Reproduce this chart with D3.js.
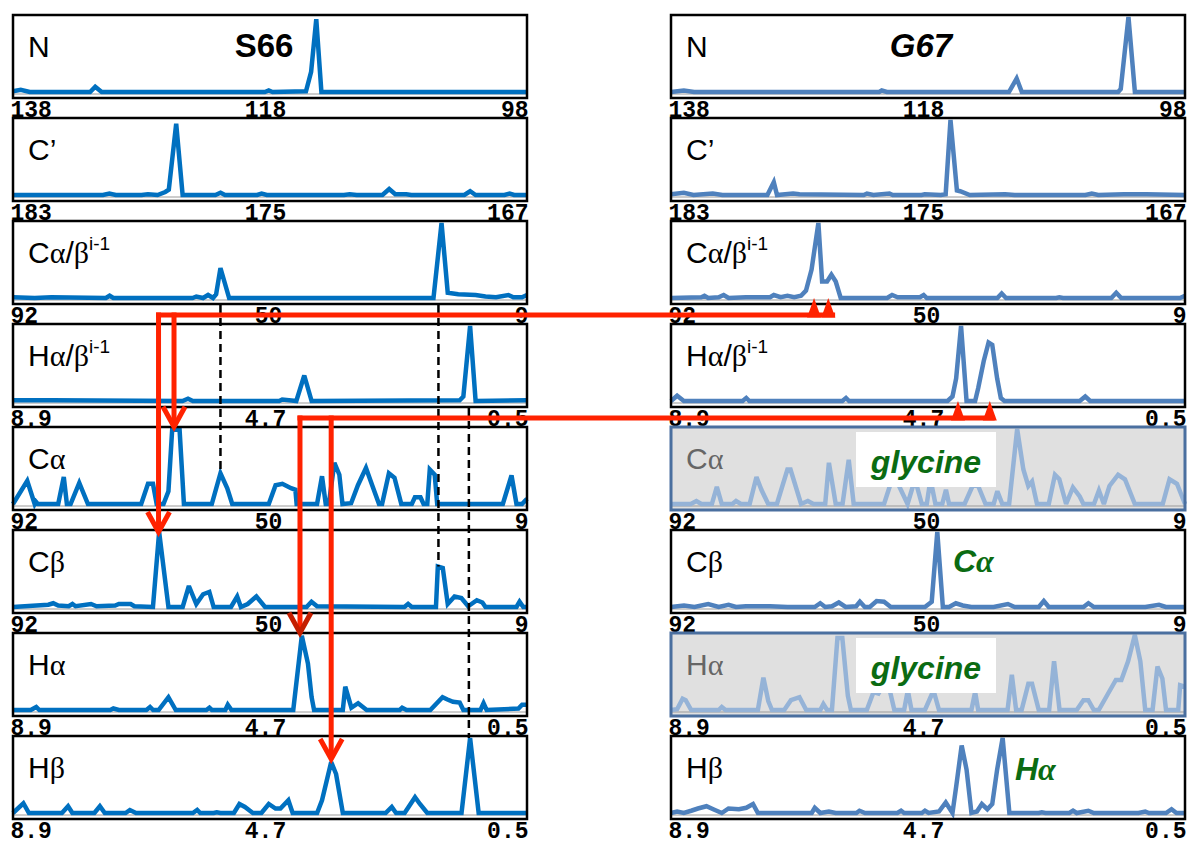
<!DOCTYPE html>
<html>
<head>
<meta charset="utf-8">
<script src="https://cdn.jsdelivr.net/npm/d3@7"></script>
<style>
  body { margin: 0; background: #fff; }
</style>
</head>
<body>
<div class="app"></div>
<script>
'use strict'

// residue names, one per column
var residues = ['S66', 'G67'];

// strip names (row order), superscripts, axis ranges and tick labels
var stripNames = ['N', 'C’', 'Cα/β', 'Hα/β', 'Cα', 'Cβ', 'Hα', 'Hβ'];
var stripSup   = ['', '', 'i-1', 'i-1', '', '', '', ''];
var stripDomains = [[138, 98], [183, 167], [92, 9], [8.9, 0.5], [92, 9], [92, 9], [8.9, 0.5], [8.9, 0.5]];
var tickValues = [[138, 118, 98], [183, 175, 167], [92, 50, 9], [8.9, 4.7, 0.5], [92, 50, 9], [92, 50, 9], [8.9, 4.7, 0.5], [8.9, 4.7, 0.5]];
var tickLabels = [['138', '118', '98'], ['183', '175', '167'], ['92', '50', '9'], ['8.9', '4.7', '0.5'],
                  ['92', '50', '9'], ['92', '50', '9'], ['8.9', '4.7', '0.5'], ['8.9', '4.7', '0.5']];

// strips of G67 that carry no signal for glycine
var glycineRows = [4, 6];

// traces: [ppm, relative intensity]
var s66N = [[138,0.01],[137.4,0.03],[136.7,0],[132.0,0],[131.6,0.07],[131.1,0],[118.4,0],[118.1,0.02],[117.8,0],
  [115.2,0.01],[114.8,0.27],[114.4,0.97],[114.0,0],[98,0]];
var s66Cp = [[183,0],[180.2,0],[180.0,0.02],[179.8,0],[179.0,0],[178.8,0.01],[178.5,0],[178.26,0.04],[178.15,0.07],
  [177.92,0.95],[177.72,0],[176.7,0],[176.54,0.03],[176.4,0],[175.4,0],[175.26,0.02],[175.1,0],[172.7,0],[172.52,0.01],
  [172.3,0],[171.5,0],[171.29,0.08],[171.1,0.01],[170.76,0.01],[170.6,0],[168.95,0],[168.77,0.05],[168.6,0],[167.7,0],
  [167.54,0.02],[167.4,0],[167,0]];
var s66CaCb = [[92,0.01],[88.5,0],[85.8,0.01],[77,0],[76.4,0.03],[75.8,0],[63,0],[62.4,0.02],[61.3,0],[60.5,0.04],
  [59.7,0],[59.2,0.05],[58.5,0.4],[57.1,0],[24.1,0],[22.8,1.0],[21.8,0.07],[20.1,0.05],[17.3,0.04],[15.7,0.02],
  [14.0,0.01],[12.0,0.04],[11.2,0.01],[9.8,0.01],[9,0.04]];
var s66HaHb = [[8.9,0.01],[8.27,0.01],[6.13,0],[6.04,0.03],[5.96,0],[4.55,0],[4.5,0.02],[4.27,0],[4.14,0.34],[4.02,0],
  [1.6,0.01],[1.54,0.06],[1.43,1.0],[1.34,0],[0.5,0.01]];
var s66Ca = [[92,0],[89.7,0.31],[88.5,0],[88.3,0.03],[88.0,0],[84.7,0],[83.8,0.36],[83.3,0],[82.7,0],[81.3,0.28],
  [79.9,0],[71.3,0],[70.2,0.27],[69.4,0.27],[68.8,0],[67.7,0],[66.9,0.17],[66.3,0.99],[65.1,0.99],[64.4,0],[59.9,0],
  [58.5,0.41],[57.4,0.21],[56.6,0],[50.7,0],[49.6,0.25],[48.5,0.27],[47.1,0.21],[46.4,0.19],[46.2,0],[42.9,0],
  [42.1,0.37],[41.5,0],[41.0,0],[40.1,0.55],[39.3,0.39],[38.8,0],[37.4,0.01],[36.3,0.25],[35.0,0.48],[34.0,0.25],
  [32.9,0],[32.4,0],[31.3,0.41],[30.4,0.35],[29.3,0],[27.6,0],[27.1,0.09],[26.2,0.09],[25.7,0],[25.1,0],[24.7,0.46],
  [23.9,0.39],[23.5,0],[12.9,0],[11.5,0.38],[10.7,0],[9.8,0],[9,0.07]];
var s66Cb = [[92,0],[86.3,0.03],[85.5,0.05],[84.7,0.02],[83.0,0.01],[82.4,0.04],[81.9,0.01],[79.4,0.04],[78.5,0.01],
  [75.5,0.02],[74.9,0.04],[73.0,0.04],[72.4,0.01],[69.4,0],[68.4,1.0],[66.9,0],[64.6,0],[63.6,0.28],[62.4,0.04],
  [61.3,0.17],[60.3,0.2],[59.6,0],[56.8,0],[55.8,0.14],[55.2,0],[54.1,0.04],[52.7,0.14],[51.3,0],[44.6,0],[43.8,0.07],
  [42.9,0.01],[28.8,0],[28.2,0.04],[27.6,0],[23.7,0],[23.4,0.54],[22.6,0.52],[21.8,0.04],[20.7,0.14],[19.6,0.12],
  [18.5,0.01],[17.1,0.09],[16.2,0.06],[15.7,0],[10.7,0],[10.2,0.07],[9.6,0],[9,0]];
var s66Ha = [[8.9,0],[8.61,0],[8.52,0.04],[8.47,0],[7.31,0],[7.26,0.02],[7.17,0],[6.72,0],[6.66,0.04],[6.61,0],
  [6.52,0],[6.36,0.17],[6.24,0],[5.74,0],[5.69,0.03],[5.65,0],[5.43,0],[5.39,0.07],[5.33,0],[4.32,0],[4.18,0.99],
  [4.08,0.62],[4.02,0.17],[3.98,0],[3.51,0],[3.47,0.31],[3.37,0.03],[3.26,0.09],[3.12,0],[2.58,0],[2.54,0.03],
  [2.47,0],[2.08,0],[1.88,0.17],[1.8,0.14],[1.71,0.11],[1.6,0.1],[1.54,0],[1.26,0],[1.21,0.09],[1.16,0],[0.64,0.02],
  [0.58,0.07],[0.5,0.07]];
var s66Hb = [[8.9,0],[8.73,0.13],[8.64,0],[8.1,0],[8.0,0.09],[7.93,0],[7.57,0],[7.48,0.09],[7.4,0],[7.06,0],
  [6.99,0.04],[6.89,0],[5.96,0],[5.89,0.04],[5.84,0],[5.62,0],[5.57,0.01],[5.51,0],[5.29,0],[5.2,0.12],[5.11,0.08],
  [4.98,0],[4.84,0],[4.72,0.12],[4.61,0.06],[4.53,0.06],[4.4,0.17],[4.33,0],[3.93,0],[3.85,0.17],[3.7,0.68],
  [3.62,0.52],[3.51,0],[2.81,0],[2.71,0.08],[2.64,0],[2.5,0],[2.33,0.21],[2.25,0.12],[2.13,0],[1.57,0],[1.43,1.0],
  [1.29,0],[0.5,0]];

var g67N = [[138,0],[137.0,0.02],[136.2,0],[121.8,0],[121.6,0.02],[121.2,0],[111.7,0],[111.1,0.18],[110.7,0],
  [103.2,0],[103.0,0.04],[102.4,1.0],[101.9,0],[98,0]];
var g67Cp = [[183,0.01],[182.6,0.03],[182.3,0],[181.7,0.02],[181.4,0],[180.0,0],[179.8,0.17],[179.7,0],[179.2,0.02],
  [179.0,0.01],[177.0,0],[176.9,0.02],[176.7,0],[176.2,0.02],[176.1,0],[175.2,0],[175.1,0.01],[174.6,0],[174.45,0.01],
  [174.3,1.0],[174.1,0.06],[174.0,0.05],[173.7,0],[172.6,0.01],[172.3,0],[170.1,0],[169.9,0.02],[169.7,0],
  [168.9,0.01],[168.2,0.01],[167,0]];
var g67CaCb = [[92,0],[87.1,0.01],[86.6,0.03],[86.0,0],[84.3,0.01],[83.5,0.04],[82.7,0],[79.9,0.01],[76.0,0.01],
  [75.4,0.04],[74.3,0.01],[73.2,0.03],[72.1,0.01],[71.0,0.03],[70.2,0.1],[69.3,0.38],[68.2,1.0],[67.6,0.22],
  [66.8,0.22],[66.1,0.31],[65.4,0.22],[64.6,0],[57.1,0],[56.3,0.04],[55.4,0.01],[51.8,0.01],[51.2,0.04],[50.7,0],
  [39.3,0],[38.6,0.06],[37.9,0],[29.8,0],[29.3,0.01],[28.7,0],[20.9,0],[20.1,0.07],[19.3,0],[9.8,0],[9,0.03]];
var g67HaHb = [[8.9,0],[8.8,0.07],[8.69,0],[7.73,0],[7.67,0.04],[7.62,0],[6.1,0],[6.04,0.04],[5.99,0],[4.38,0],
  [4.3,0.06],[4.24,0.3],[4.16,1.0],[4.07,0],[3.93,0],[3.88,0.17],[3.79,0.53],[3.71,0.78],[3.65,0.75],[3.57,0.3],
  [3.51,0.04],[3.45,0],[2.22,0],[2.13,0.06],[2.05,0],[0.5,0]];
var g67Ca = [[92,0],[88.8,0],[87.9,0.04],[87.1,0],[85.4,0],[84.6,0.23],[83.8,0],[82.1,0],[81.5,0.04],[80.7,0],
  [79.3,0],[78.2,0.36],[77.4,0.19],[76.3,0],[74.9,0],[73.2,0.46],[72.7,0.46],[71.0,0],[69.9,0.04],[69.0,0],[67.1,0],
  [66.5,0.55],[65.4,0],[64.3,0],[63.3,0.59],[62.5,0],[57.6,0],[56.5,0.28],[55.4,0.28],[53.8,0],[52.6,0.33],[51.5,0],
  [50.7,0],[50.1,0.33],[49.3,0],[48.2,0],[47.6,0.19],[47.1,0],[44.6,0],[43.2,0.26],[42.4,0.24],[41.2,0],[39.9,0],
  [39.3,0.17],[38.5,0],[37.4,0],[36.1,1.0],[35.1,0.46],[34.3,0.24],[33.7,0.3],[32.9,0],[31.0,0],[30.0,0.39],
  [29.3,0.33],[28.2,0],[27.1,0.22],[26.0,0.1],[25.4,0],[23.7,0],[22.9,0.18],[22.1,0],[21.2,0.24],[19.8,0.39],
  [18.7,0.33],[17.1,0],[12.6,0],[11.5,0.33],[10.3,0.27],[9,0]];
var g67Cb = [[92,0],[89.9,0.02],[88.2,0],[86.0,0.04],[84.3,0],[82.7,0.03],[81.5,0],[79.9,0.01],[76.0,0.01],[73.2,0],
  [68.8,0],[67.9,0.05],[67.1,0],[66.0,0.01],[64.9,0.06],[63.8,0],[62.1,0.01],[61.5,0.07],[60.7,0],[59.9,0],
  [58.8,0.08],[57.6,0.07],[56.5,0],[51.0,0],[49.9,0.07],[49.0,1.0],[48.1,0],[47.1,0],[46.0,0.05],[44.9,0.02],
  [43.5,0],[39.9,0],[37.6,0.04],[36.5,0],[32.6,0],[31.8,0.08],[31.0,0],[25.4,0],[24.6,0.05],[23.7,0],[15.4,0],
  [13.2,0.03],[12.1,0],[9,0]];
var g67Ha = [[8.9,0],[8.8,0.01],[8.71,0.15],[8.66,0.13],[8.57,0],[8.12,0],[8.07,0.04],[8.01,0],[7.48,0],[7.39,0.43],
  [7.31,0.12],[7.25,0],[7.05,0],[6.94,0.13],[6.8,0.17],[6.69,0],[6.46,0],[6.41,0.08],[6.35,0],[6.27,0],[6.18,0.96],
  [6.1,0.96],[6.01,0.19],[5.96,0],[5.7,0],[5.59,0.24],[5.51,0.22],[5.37,0.42],[5.25,0],[5.09,0],[5.03,0.26],
  [4.97,0],[4.75,0],[4.61,0.26],[4.52,0],[3.99,0],[3.93,0.24],[3.88,0],[3.4,0],[3.33,0.47],[3.26,0],[3.17,0],
  [3.06,0.35],[3.0,0.35],[2.89,0],[2.72,0],[2.64,0.65],[2.55,0],[2.27,0],[2.16,0.13],[2.08,0.13],[1.99,0],[1.91,0],
  [1.77,0.2],[1.63,0.4],[1.54,0.4],[1.43,0.65],[1.32,1.0],[1.23,0.65],[1.15,0],[1.03,0],[0.95,0.58],[0.87,0.42],
  [0.81,0],[0.61,0],[0.58,0.33],[0.5,0.31]];
var g67Hb = [[8.9,0],[8.8,0.02],[8.69,0],[8.57,0.03],[8.46,0.06],[8.32,0.09],[8.21,0.05],[8.07,0],[7.96,0.06],
  [7.79,0.05],[7.67,0.07],[7.56,0.12],[7.48,0],[6.6,0],[6.55,0.07],[6.46,0],[6.32,0.02],[6.21,0],[5.87,0],
  [5.82,0.03],[5.73,0],[5.2,0],[5.14,0.03],[5.09,0],[4.8,0],[4.75,0.03],[4.69,0],[4.52,0.02],[4.41,0.14],[4.3,0],
  [4.24,0.35],[4.15,0.9],[4.07,0.58],[3.99,0],[3.9,0.02],[3.82,0.12],[3.73,0.05],[3.65,0.12],[3.57,0.58],
  [3.48,1.0],[3.37,0],[2.89,0],[2.84,0.01],[2.78,0],[2.39,0],[2.33,0.03],[2.27,0],[2.08,0.03],[1.99,0],[1.26,0],
  [1.15,0.02],[1.09,0],[0.81,0],[0.72,0.05],[0.64,0],[0.5,0]];

var traces = [
  [s66N, s66Cp, s66CaCb, s66HaHb, s66Ca, s66Cb, s66Ha, s66Hb],
  [g67N, g67Cp, g67CaCb, g67HaHb, g67Ca, g67Cb, g67Ha, g67Hb]
];

// connections (ppm values; row = strip above the connecting line)
var links = [
  {row: 2, from: 68.5, to: 65.5},
  {row: 3, from: 4.21, to: 3.61}
];
var drops = [
  {row: 2, ppm: 68.5, target: 5, level: 1.0, dark: false},
  {row: 2, ppm: 66.0, target: 4, level: 1.03, dark: false},
  {row: 3, ppm: 4.21, target: 6, level: 1.03, dark: true},
  {row: 3, ppm: 3.70, target: 7, level: 0.72, dark: false}
];
var markers = [
  {row: 2, ppm: 68.9}, {row: 2, ppm: 66.6},
  {row: 3, ppm: 4.21}, {row: 3, ppm: 3.69}
];
var guides = [
  {row: 2, ppm: 58.5, target: 4, level: 0.41},
  {row: 2, ppm: 23.3, target: 5, level: 0.54},
  {row: 3, ppm: 1.45, target: 7, level: 1.0}
];

// layout
var W = 1190, H = 841;
var colLeft = [13, 671];
var panelW = 514, panelH = 83, rowStep = 103, firstTop = 15;
var traceColor = ['#0070c0', '#4f81bd'];
var red = '#ff2200', darkRed = '#c41e00', green = '#0b6b12';
var labelFont = '"Liberation Sans", Arial, sans-serif';
var greekFont = '"Liberation Serif", "Times New Roman", serif';

function panelTop(row) { return firstTop + row * rowStep; }
function xScale(col, row) {
  return d3.scaleLinear().domain(stripDomains[row]).range([colLeft[col], colLeft[col] + panelW]);
}
function yScale(row) {
  return d3.scaleLinear().domain([0, 1]).range([panelTop(row) + panelH - 6, panelTop(row) + 2]);
}

var svg = d3.select('.app').append('svg')
  .attr('width', W)
  .attr('height', H)
  .style('display', 'block');

var line = d3.line();

// writes a label, greek letters in a serif face
function addLabel(sel, text, sup) {
  text.split('').forEach(function(ch) {
    var greek = /[α-ω]/.test(ch);
    sel.append('tspan').attr('font-family', greek ? greekFont : null).text(ch);
  });
  if (sup) {
    sel.append('tspan').attr('font-size', 19).attr('dy', -13).text(sup);
  }
}

residues.forEach(function(res, c) {
  var colG = svg.append('g').attr('class', 'col-' + c);

  stripNames.forEach(function(name, r) {
    var x = xScale(c, r), y = yScale(r);
    var gly = c === 1 && glycineRows.indexOf(r) >= 0;
    var g = colG.append('g').attr('class', 'strip');

    g.append('rect')
      .attr('x', colLeft[c]).attr('y', panelTop(r))
      .attr('width', panelW).attr('height', panelH)
      .attr('fill', gly ? '#e0e0e0' : '#fff');

    // zero line
    g.append('line')
      .attr('x1', colLeft[c]).attr('x2', colLeft[c] + panelW)
      .attr('y1', y(0) + 2).attr('y2', y(0) + 2)
      .attr('stroke', '#9a9a9a').attr('stroke-width', 1);

    var pts = traces[c][r].map(function(d) { return [x(d[0]), y(d[1])]; });
    g.append('path')
      .attr('d', line(pts))
      .attr('fill', 'none')
      .attr('stroke', gly ? '#95b3d7' : traceColor[c])
      .attr('stroke-width', 4.5)
      .attr('stroke-linejoin', 'miter')
      .attr('stroke-miterlimit', 3);

    g.append('rect')
      .attr('x', colLeft[c]).attr('y', panelTop(r))
      .attr('width', panelW).attr('height', panelH)
      .attr('fill', 'none')
      .attr('stroke', gly ? '#4a6f9f' : '#000')
      .attr('stroke-width', gly ? 3 : 2.5);

    var lab = g.append('text')
      .attr('x', colLeft[c] + 15).attr('y', panelTop(r) + 42)
      .attr('font-family', labelFont).attr('font-size', 30)
      .attr('fill', gly ? '#666' : '#000');
    addLabel(lab, name, stripSup[r]);

    // tick labels under the strip
    var axis = d3.axisBottom(x).tickValues(tickValues[r]).tickSize(0)
      .tickFormat(function(d, i) { return tickLabels[r][i]; });
    var ax = g.append('g').attr('class', 'x-axis')
      .attr('transform', 'translate(0,' + (panelTop(r) + panelH) + ')')
      .call(axis);
    ax.select('.domain').remove();
    ax.attr('font-family', '"Liberation Mono", "Courier New", monospace')
      .attr('font-size', 23).attr('font-weight', 'bold');
    ax.selectAll('text')
      .attr('y', 19).attr('dy', null).attr('fill', '#000')
      .attr('text-anchor', function(d, i) { return i === 0 ? 'start' : (i === 2 ? 'end' : 'middle'); })
      .attr('dx', function(d, i) { return i === 0 ? -3 : (i === 2 ? 1 : -5); });
  });

  // residue title
  colG.append('text')
    .attr('x', c === 0 ? 264 : 921).attr('y', 57)
    .attr('text-anchor', 'middle')
    .attr('font-family', labelFont).attr('font-size', 33).attr('font-weight', 'bold')
    .attr('font-style', c === 1 ? 'italic' : null)
    .text(res);
});

// glycine notes on the G67 column
glycineRows.forEach(function(r) {
  var bx = colLeft[1] + 185;
  svg.append('rect')
    .attr('x', bx).attr('y', panelTop(r) + 5)
    .attr('width', 140).attr('height', 55)
    .attr('fill', '#fff');
  svg.append('text')
    .attr('x', bx + 70).attr('y', panelTop(r) + 46)
    .attr('text-anchor', 'middle')
    .attr('font-family', labelFont).attr('font-size', 32)
    .attr('font-weight', 'bold').attr('font-style', 'italic')
    .attr('fill', green)
    .text('glycine');
});

var notes = [
  {row: 5, text: 'Cα', dx: 282, dy: 42},
  {row: 7, text: 'Hα', dx: 344, dy: 44}
];
notes.forEach(function(n) {
  var t = svg.append('text')
    .attr('x', colLeft[1] + n.dx).attr('y', panelTop(n.row) + n.dy)
    .attr('font-family', labelFont).attr('font-size', 32)
    .attr('font-weight', 'bold').attr('font-style', 'italic')
    .attr('fill', green);
  t.append('tspan').text(n.text[0]);
  t.append('tspan').attr('font-family', greekFont).text(n.text.slice(1));
});

// dashed guides in the S66 column
guides.forEach(function(d) {
  var x = xScale(0, d.row)(d.ppm);
  svg.append('line')
    .attr('x1', x).attr('x2', x)
    .attr('y1', panelTop(d.row) + panelH + 1)
    .attr('y2', yScale(d.target)(d.level))
    .attr('stroke', '#000').attr('stroke-width', 2.5)
    .attr('stroke-dasharray', '8,5');
});

// red connections
links.forEach(function(d) {
  var yh = panelTop(d.row) + panelH + 11;
  var x1 = xScale(0, d.row)(d.from) - 2.5;
  var x2 = xScale(1, d.row)(d.to);
  svg.append('line')
    .attr('x1', x1).attr('x2', x2).attr('y1', yh).attr('y2', yh)
    .attr('stroke', red).attr('stroke-width', 5);
});

markers.forEach(function(d) {
  var x = xScale(1, d.row)(d.ppm);
  var yTip = yScale(d.row)(0);
  var yBase = panelTop(d.row) + panelH + 13.5;
  svg.append('path')
    .attr('d', 'M' + x + ',' + yTip + 'L' + (x - 7) + ',' + yBase + 'L' + (x + 7) + ',' + yBase + 'Z')
    .attr('fill', red);
});

drops.forEach(function(d) {
  var x = xScale(0, d.row)(d.ppm);
  var yh = panelTop(d.row) + panelH + 8.5;
  var yTip = yScale(d.target)(d.level);
  svg.append('line')
    .attr('x1', x).attr('x2', x).attr('y1', yh).attr('y2', yTip - 3)
    .attr('stroke', red).attr('stroke-width', 5);
  svg.append('path')
    .attr('d', 'M' + (x - 11) + ',' + (yTip - 20) + 'L' + x + ',' + yTip + 'L' + (x + 11) + ',' + (yTip - 20))
    .attr('fill', 'none')
    .attr('stroke', d.dark ? darkRed : red)
    .attr('stroke-width', 5)
    .attr('stroke-linejoin', 'miter');
});
</script>
</body>
</html>
